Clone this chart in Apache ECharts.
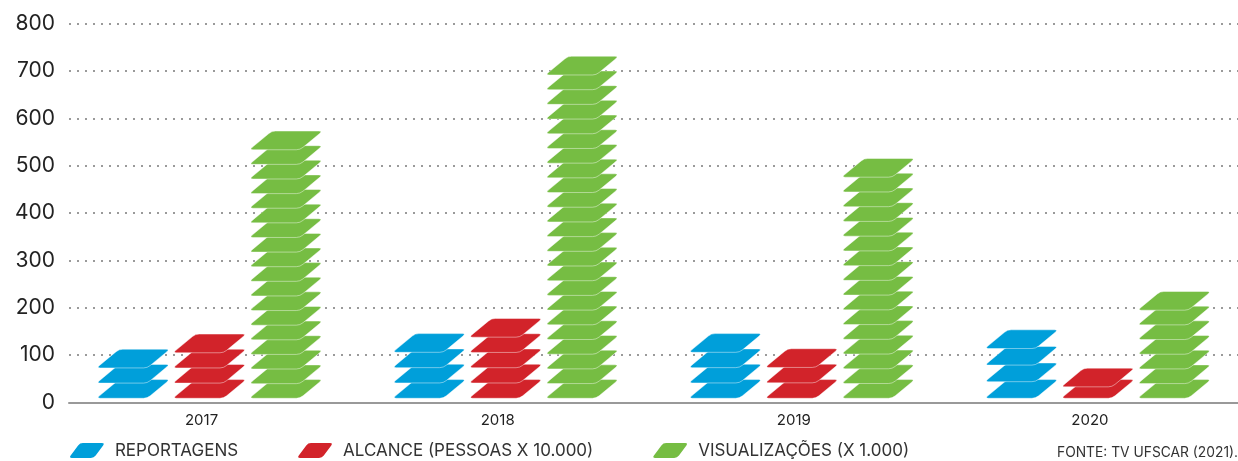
<!DOCTYPE html>
<html>
<head>
<meta charset="utf-8">
<script src="https://cdn.jsdelivr.net/npm/echarts@6/dist/echarts.min.js"></script>
<style>
  html, body { margin: 0; padding: 0; background: #fff; }
  #chart { width: 1238px; height: 461px; }
</style>
</head>
<body>
<div id="chart"></div>
<script>
// ---- data ----
const categories = ['2017', '2018', '2019', '2020'];
const seriesNames = ['REPORTAGENS', 'ALCANCE (PESSOAS X 10.000)', 'VISUALIZAÇÕES (X 1.000)'];
const reportagens = [108, 141, 141, 149];
const alcance = [140, 173, 109, 68];
const visualizacoes = [569, 727, 511, 230];
// number of stacked slabs drawn in each bar
const reportagensSlabs = [3, 4, 4, 4];
const alcanceSlabs = [4, 5, 3, 2];
const visualizacoesSlabs = [18, 23, 16, 7];
const yMin = 0, yMax = 800, yStep = 100;
const sourceText = 'FONTE: TV UFSCAR (2021).';

// ---- styling ----
const colors = ['#009fda', '#d2232a', '#76bd43'];
const slabPath = 'path://M28.2,0 L74.7,0 Q78.7,0 75.54,2.44 L57.66,16.26 Q54.5,18.7 50.5,18.7 L4,18.7 Q0,18.7 3.16,16.26 L21.04,2.44 Q24.2,0 28.2,0 Z';
const legendPath = 'path://M14,0 L33,0 Q36,0 34.23,2.42 L26.77,12.58 Q25,15 22,15 L3,15 Q0,15 1.77,12.58 L9.23,2.42 Q11,0 14,0 Z';
const font = 'Inter';

function makeData(values, slabs) {
  return values.map((v, i) => ({ value: v, symbolRepeat: slabs[i], symbolBoundingData: v }));
}

const gridTop = 23.7, gridBottom = 58.7;

function pictorial(name, values, slabs, color) {
  return {
    name: name,
    type: 'pictorialBar',
    xAxisIndex: 1,
    yAxisIndex: 1,
    symbol: slabPath,
    symbolSize: [70, 18.7],
    symbolOffset: [8, -3],
    symbolPosition: 'start',
    barWidth: 67,
    barGap: '14%',
    itemStyle: { color: color, borderColor: '#ffffff', borderWidth: 4 },
    emphasis: { disabled: true },
    data: makeData(values, slabs),
    z: 3
  };
}

const chart = echarts.init(document.getElementById('chart'), null, { renderer: 'canvas' });
chart.setOption({
  animation: false,
  backgroundColor: '#ffffff',
  color: colors,
  grid: [
    { left: 69, right: 0, top: gridTop, bottom: gridBottom },
    { left: 53.5, right: -4.5, top: gridTop, bottom: gridBottom }
  ],
  xAxis: [
    {
      type: 'value', gridIndex: 0, min: 0, max: 1,
      axisLine: { show: true, onZero: false, lineStyle: { color: '#999999', width: 2 } },
      axisTick: { show: false }, axisLabel: { show: false }, splitLine: { show: false }
    },
    {
      type: 'category', gridIndex: 1, data: categories,
      axisLine: { show: false }, axisTick: { show: false },
      axisLabel: { color: '#222222', fontSize: 15, fontFamily: font, margin: 11 },
      splitLine: { show: false }
    }
  ],
  yAxis: [
    {
      type: 'value', gridIndex: 0, min: yMin, max: yMax, interval: yStep,
      axisLine: { show: false }, axisTick: { show: false },
      axisLabel: { color: '#222222', fontSize: 21, fontFamily: font, margin: 14 },
      splitLine: { show: true, lineStyle: { color: '#9a9a9a', width: 2, type: [2, 6] } }
    },
    {
      type: 'value', gridIndex: 1, min: yMin, max: yMax, interval: yStep,
      show: false
    }
  ],
  legend: {
    left: 70, top: 441, padding: 0,
    itemWidth: 36, itemHeight: 15, itemGap: 60,
    itemStyle: { borderWidth: 0 },
    textStyle: { color: '#333333', fontSize: 17, lineHeight: 19, fontFamily: font, padding: [0, 0, 0, 5] },
    data: seriesNames.map(n => ({ name: n, icon: legendPath }))
  },
  graphic: [
    {
      type: 'text', right: 0, top: 446,
      style: { text: sourceText, fill: '#333333', font: '13.8px ' + font }
    }
  ],
  series: [
    pictorial(seriesNames[0], reportagens, reportagensSlabs, colors[0]),
    pictorial(seriesNames[1], alcance, alcanceSlabs, colors[1]),
    pictorial(seriesNames[2], visualizacoes, visualizacoesSlabs, colors[2])
  ]
});
</script>
</body>
</html>
